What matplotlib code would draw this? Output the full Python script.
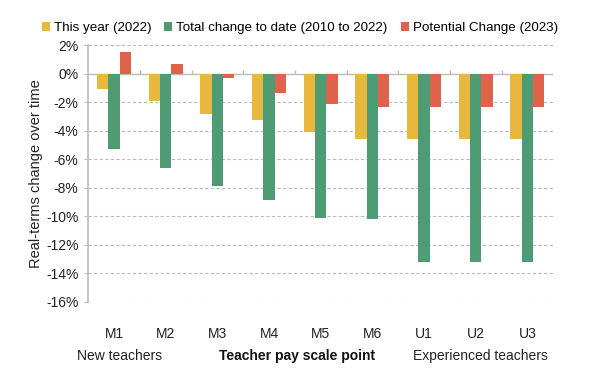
import matplotlib.pyplot as plt
import numpy as np

plt.rcParams['font.family'] = ['Liberation Sans', 'DejaVu Sans']

# pay scale points and the three series (real-terms %)
points = ["M1", "M2", "M3", "M4", "M5", "M6", "U1", "U2", "U3"]
this_year = [-1.1, -1.95, -2.8, -3.25, -4.1, -4.6, -4.6, -4.6, -4.6]
total_change = [-5.3, -6.6, -7.9, -8.85, -10.15, -10.2, -13.2, -13.2, -13.2]
potential = [1.5, 0.65, -0.3, -1.35, -2.1, -2.35, -2.35, -2.35, -2.35]

yellow = "#E8B73E"
green = "#4F9B74"
red = "#DF634A"

fig = plt.figure(figsize=(6, 3.76), dpi=100)
ax = fig.add_axes([0.147, 0.197, 0.775, 0.683])

x = np.arange(len(points))
w = 0.22
ax.bar(x - w, this_year, w, color=yellow, label="This year (2022)", zorder=3)
ax.bar(x, total_change, w, color=green, label="Total change to date (2010 to 2022)", zorder=3)
ax.bar(x + w, potential, w, color=red, label="Potential Change (2023)", zorder=3)

ax.set_xlim(-0.5, len(points) - 0.5)
ax.set_ylim(-16, 2)
yt = np.arange(-16, 3, 2)
ax.set_yticks(yt)
ax.set_yticklabels([f"{v}%" for v in yt], fontsize=10, color="#222222")
ax.set_xticks(x)
ax.set_xticklabels(points, fontsize=10, color="#222222")
ax.tick_params(axis="x", length=0, pad=18)
ax.tick_params(axis="y", length=3, color="#bbbbbb", pad=4)

for v in yt:
    if v != 0:
        ax.axhline(v, color="#bbbbbb", lw=0.8, ls=(0, (3, 2)), zorder=1)
ax.axhline(0, color="#bbbbbb", lw=1.0, zorder=2)
ax.vlines(np.arange(0.5, len(points) - 0.5, 1), 0, 0.25, color="#bbbbbb", lw=1.0, zorder=2)

for s in ["top", "right", "bottom"]:
    ax.spines[s].set_visible(False)
ax.spines["left"].set_color("#bbbbbb")
ax.spines["left"].set_linewidth(1.2)

ax.set_ylabel("Real-terms change over time", fontsize=10.5, color="#222222")
ax.yaxis.set_label_coords(-0.097, 0.5)

fig.text(0.199, 0.053, "New teachers", ha="center", va="center", fontsize=10, color="#222222")
fig.text(0.495, 0.053, "Teacher pay scale point", ha="center", va="center", fontsize=10,
         fontweight="bold", color="#111111")
fig.text(0.80, 0.053, "Experienced teachers", ha="center", va="center", fontsize=10, color="#222222")

fig.legend(loc="center", bbox_to_anchor=(0.5, 0.925), ncol=3, frameon=False, fontsize=9.6,
           handlelength=0.6, handleheight=0.6, handletextpad=0.3, columnspacing=1.0)

fig.savefig("out.png", dpi=100, facecolor="white")
